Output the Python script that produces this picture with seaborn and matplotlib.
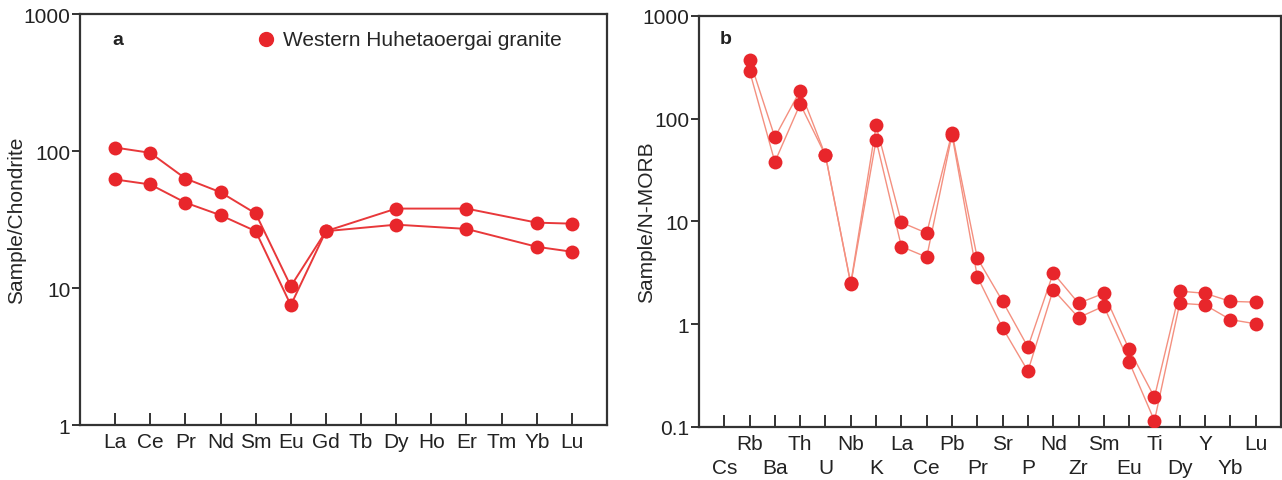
import numpy as np
import pandas as pd
import matplotlib
matplotlib.use("Agg")
import matplotlib.pyplot as plt
import seaborn as sns
from matplotlib.ticker import FixedLocator, FixedFormatter, NullLocator

# ---- data ----
ree = ["La", "Ce", "Pr", "Nd", "Sm", "Eu", "Gd", "Tb", "Dy", "Ho", "Er", "Tm", "Yb", "Lu"]
ree_s1 = [106, 97, 63, 50, 35, 10.3, 26, np.nan, 38, np.nan, 38, np.nan, 30, 29.5]
ree_s2 = [62, 57, 42, 34, 26, 7.5, 26, np.nan, 29, np.nan, 27, np.nan, 20, 18.4]

spider = ["Cs", "Rb", "Ba", "Th", "U", "Nb", "K", "La", "Ce", "Pb", "Pr",
          "Sr", "P", "Nd", "Zr", "Sm", "Eu", "Ti", "Dy", "Y", "Yb", "Lu"]
spider_s1 = [np.nan, 376, 66, 188, 44, 2.5, 86, 9.8, 7.7, 73, 4.4,
             1.67, 0.6, 3.15, 1.6, 2.0, 0.57, 0.195, 2.1, 2.0, 1.67, 1.64]
spider_s2 = [np.nan, 292, 38, 139, 44, 2.45, 62, 5.7, 4.5, 70, 2.9,
             0.92, 0.35, 2.17, 1.16, 1.5, 0.43, 0.115, 1.6, 1.54, 1.11, 1.01]

legend_label = "Western Huhetaoergai granite"

MARKER = "#e8262b"
LINE_A = "#e8383a"
LINE_B = "#f49080"
FS = 15


def long_table(names, s1, s2):
    df = pd.DataFrame({"element": names, "pos": np.arange(1, len(names) + 1),
                       "s1": s1, "s2": s2})
    df = df.melt(id_vars=["element", "pos"], var_name="sample", value_name="value")
    return df.dropna()


sns.set_theme(style="white")
plt.rcParams["font.family"] = ["Liberation Sans", "DejaVu Sans"]

fig = plt.figure(figsize=(12.82, 4.81), dpi=100)
ax_a = fig.add_axes([0.0624, 0.1143, 0.4111, 0.8545])
ax_b = fig.add_axes([0.5452, 0.1102, 0.4540, 0.8545])

# ---- panel a: chondrite-normalised REE ----
df_a = long_table(ree, ree_s1, ree_s2)
sns.lineplot(data=df_a, x="pos", y="value", units="sample", estimator=None,
             color=LINE_A, linewidth=1.4, ax=ax_a, legend=False)
sns.scatterplot(data=df_a, x="pos", y="value", color=MARKER, s=100,
                edgecolor=MARKER, linewidth=0, ax=ax_a, legend=False, zorder=3)
ax_a.set_yscale("log")
ax_a.set_ylim(1, 1000)
ax_a.set_xlim(0, 15)
ax_a.set_xticks(np.arange(1, len(ree) + 1))
ax_a.set_xticklabels(ree)
ax_a.set_yticks([1, 10, 100, 1000])
ax_a.set_yticklabels(["1", "10", "100", "1000"])
ax_a.set_ylabel("Sample/Chondrite", fontsize=FS)
ax_a.yaxis.set_label_coords(-0.102, 0.5)
ax_a.set_xlabel("")
ax_a.text(0.061, 0.939, "a", transform=ax_a.transAxes, fontsize=14,
          fontweight="bold", color="#222222", va="center")
ax_a.scatter([], [], s=100, color=MARKER, label=legend_label)
ax_a.legend(loc="center left", bbox_to_anchor=(0.333, 0.939), frameon=False,
            fontsize=FS, handlelength=1.0, handletextpad=0.3,
            borderpad=0, borderaxespad=0)
ax_a.xaxis.set_minor_locator(NullLocator())

# ---- panel b: N-MORB-normalised spider diagram ----
df_b = long_table(spider, spider_s1, spider_s2)
sns.lineplot(data=df_b, x="pos", y="value", units="sample", estimator=None,
             color=LINE_B, linewidth=1.0, ax=ax_b, legend=False)
sns.scatterplot(data=df_b, x="pos", y="value", color=MARKER, s=100,
                edgecolor=MARKER, linewidth=0, ax=ax_b, legend=False, zorder=3)
ax_b.set_yscale("log")
ax_b.set_ylim(0.1, 1000)
ax_b.set_xlim(0, 23)
pos_b = np.arange(1, len(spider) + 1)
# upper row of labels on major ticks, lower row on minor ticks
ax_b.xaxis.set_major_locator(FixedLocator(pos_b[1::2]))
ax_b.xaxis.set_major_formatter(FixedFormatter(spider[1::2]))
ax_b.xaxis.set_minor_locator(FixedLocator(pos_b[0::2]))
ax_b.xaxis.set_minor_formatter(FixedFormatter(spider[0::2]))
ax_b.set_yticks([0.1, 1, 10, 100, 1000])
ax_b.set_yticklabels(["0.1", "1", "10", "100", "1000"])
ax_b.set_ylabel("Sample/N-MORB", fontsize=FS)
ax_b.yaxis.set_label_coords(-0.074, 0.5)
ax_b.set_xlabel("")
ax_b.text(0.036, 0.944, "b", transform=ax_b.transAxes, fontsize=14,
          fontweight="bold", color="#222222", va="center")
ax_b.tick_params(axis="x", which="minor", direction="in", length=9, width=1.4,
                 color="#333333", labelsize=FS, pad=22.5, labelcolor="#222222",
                 bottom=True)

for ax in (ax_a, ax_b):
    ax.yaxis.set_minor_locator(NullLocator())
    for sp in ax.spines.values():
        sp.set_color("#333333")
        sp.set_linewidth(1.6)
    ax.tick_params(axis="x", which="major", direction="in", length=9, width=1.4,
                   color="#333333", labelsize=FS, pad=5, labelcolor="#222222",
                   bottom=True)
    ax.tick_params(axis="y", direction="out", length=6, width=1.4,
                   color="#333333", labelsize=FS, pad=1, labelcolor="#222222",
                   left=True)

fig.savefig("out.png", dpi=100)
